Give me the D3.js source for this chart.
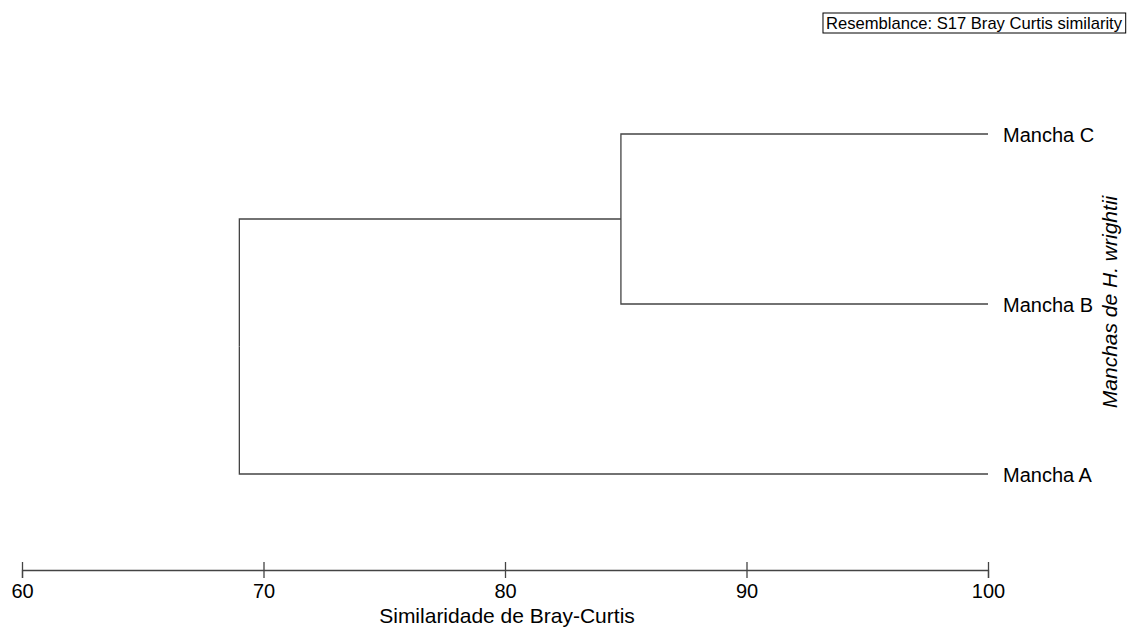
<!DOCTYPE html>
<html>
<head>
<meta charset="utf-8">
<script src="https://cdnjs.cloudflare.com/ajax/libs/d3/7.8.5/d3.min.js"></script>
<style>
  body { margin: 0; background: #fff; }
  text { font-family: "Liberation Sans", Arial, sans-serif; fill: #000; }
</style>
</head>
<body>
<div id="chart"></div>
<script>
// leaves, top to bottom
var leaves = ["Mancha C", "Mancha B", "Mancha A"];
// merges: [left child, right child, similarity]
var merges = [
  ["Mancha C", "Mancha B", 84.8],
  ["node1", "Mancha A", 69.0]
];
var mergeNames = ["node1", "root"];
var xTicks = [60, 70, 80, 90, 100];

var width = 1128, height = 627;

var svg = d3.select("#chart").append("svg")
  .attr("width", width).attr("height", height);

var x = d3.scaleLinear().domain([60, 100]).range([22, 988]);
var y = d3.scalePoint().domain(leaves).range([134, 474]);

// build tree from merges
var nodes = {};
leaves.forEach(function(l) { nodes[l] = { name: l, sim: 100 }; });
merges.forEach(function(m, i) {
  nodes[mergeNames[i]] = { name: mergeNames[i], sim: m[2], children: [nodes[m[0]], nodes[m[1]]] };
});
var root = d3.hierarchy(nodes["root"]);

// y of each node = mean of its children's y
root.eachAfter(function(d) {
  d.px = x(d.data.sim);
  d.py = d.children ? d3.mean(d.children, function(c) { return c.py; }) : y(d.data.name);
});

var g = svg.append("g");
root.descendants().forEach(function(d) {
  if (!d.children) return;
  d.children.forEach(function(c) {
    g.append("path")
      .attr("d", "M" + d.px + "," + d.py + "V" + c.py + "H" + c.px)
      .attr("fill", "none")
      .attr("stroke", "#444")
      .attr("stroke-width", 1.3);
  });
});

// leaf labels
svg.selectAll(".leaf-label")
  .data(root.leaves())
  .enter()
  .append("text")
  .attr("class", "leaf-label")
  .attr("x", function(d) { return d.px + 15; })
  .attr("y", function(d) { return d.py; })
  .attr("dy", "0.4em")
  .attr("style", "font-size:20px")
  .text(function(d) { return d.data.name; });

// x axis
var xAxis = d3.axisBottom(x).tickValues(xTicks).tickSize(8).tickPadding(6);
var ax = svg.append("g")
  .attr("transform", "translate(0,570)")
  .call(xAxis);
ax.select(".domain").attr("stroke", "#444").attr("stroke-width", 1.3);
ax.selectAll(".tick line").attr("y1", -8).attr("stroke", "#444").attr("stroke-width", 1.3);
ax.selectAll(".tick text")
  .attr("style", "font-size:20px; font-family:'Liberation Sans', Arial, sans-serif")
  .attr("fill", "#000");

svg.append("text")
  .attr("text-anchor", "middle")
  .attr("x", 507)
  .attr("y", 623)
  .attr("style", "font-size:21px")
  .text("Similaridade de Bray-Curtis");

// y label
svg.append("text")
  .attr("text-anchor", "middle")
  .attr("transform", "translate(1117,302) rotate(-90)")
  .attr("style", "font-size:21px; font-style:italic")
  .text("Manchas de H. wrightii");

// resemblance box
var note = svg.append("text")
  .attr("text-anchor", "end")
  .attr("x", 1122)
  .attr("y", 29)
  .attr("style", "font-size:16.6px")
  .text("Resemblance: S17 Bray Curtis similarity");
var bb = note.node().getBBox();
svg.append("rect")
  .attr("x", bb.x - 3)
  .attr("y", 13)
  .attr("width", bb.width + 6)
  .attr("height", 20)
  .attr("fill", "none")
  .attr("stroke", "#000")
  .attr("stroke-width", 1);
</script>
</body>
</html>
